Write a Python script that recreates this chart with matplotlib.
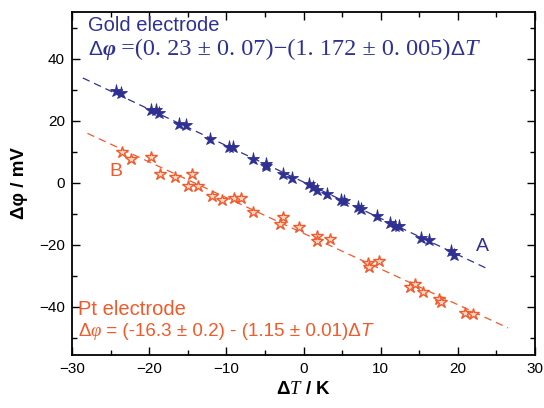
import matplotlib
matplotlib.use('Agg')
import matplotlib.pyplot as plt
import matplotlib.transforms as mtransforms
import numpy as np

plt.rcParams['font.family'] = ['Liberation Sans', 'DejaVu Sans']
plt.rcParams['mathtext.fontset'] = 'custom'
plt.rcParams['mathtext.rm'] = 'Liberation Serif'
plt.rcParams['mathtext.it'] = 'Liberation Serif:italic'
plt.rcParams['mathtext.sf'] = 'Liberation Sans'

BLUE = '#2e3192'
ORANGE = '#f15a2b'

# gold electrode (A)
gold_dT = [-24.3, -23.65, -19.76, -19.1, -18.7, -16.1, -15.2, -12.1, -9.6, -9.2,
           -6.5, -4.9, -4.9, -2.6, -1.5, 0.67, 1.27, 1.8, 3.0, 4.86,
           5.29, 7.0, 7.5, 9.5, 11.2, 11.9, 12.4, 15.2, 16.3, 19.1, 19.5]
gold_dphi = [29.7, 28.8, 23.3, 23.3, 22.5, 18.8, 18.5, 14.1, 11.4, 11.4,
             7.6, 5.9, 5.3, 2.9, 1.4, -0.4, -1.4, -2.3, -3.5, -5.5,
             -6.0, -7.8, -8.5, -10.6, -13.0, -13.9, -13.9, -17.8, -18.6, -21.9, -23.2]
gold_fit = (0.23, -1.172)
gold_fit_range = (-28.6, 24.0)

# Pt electrode (B)
pt_dT = [-23.5, -22.4, -19.7, -18.6, -16.6, -14.4, -15.0, -13.7, -11.9, -10.6,
         -9.0, -8.1, -6.6, -2.7, -3.0, -0.6, 1.8, 1.8, 3.4, 8.4,
         8.5, 9.8, 13.8, 14.4, 15.5, 17.5, 17.8, 20.9, 22.0]
pt_dphi = [9.9, 7.7, 8.2, 2.8, 2.0, 2.7, -0.9, -1.2, -4.2, -5.5,
           -4.9, -4.9, -9.3, -10.9, -13.2, -14.3, -17.1, -18.9, -18.2, -25.9,
           -27.0, -25.2, -33.5, -32.7, -35.1, -37.4, -38.5, -42.0, -42.3]
pt_fit = (-16.3, -1.15)
pt_fit_range = (-28.0, 26.5)


def draw_pieces(ax, x, y, pieces, color, size):
    """Draw consecutive text pieces on one baseline, each with its own style."""
    fig = ax.figure
    renderer = fig.canvas.get_renderer()
    trans = ax.transAxes
    for s, style in pieces:
        style = dict(style)
        fs = style.pop('size', size)
        t = ax.text(x, y, s, transform=trans, color=color, fontsize=fs,
                    va='baseline', ha='left', **style)
        ext = t.get_window_extent(renderer)
        trans = mtransforms.offset_copy(t.get_transform(), fig=fig,
                                        x=ext.width, units='dots')


fig = plt.figure(figsize=(5.44, 4.08), dpi=100)
ax = fig.add_axes([72 / 544, 53 / 408, 463 / 544, 343 / 408])

# fitted lines
for (a, b), (x0, x1), c in [(gold_fit, gold_fit_range, BLUE), (pt_fit, pt_fit_range, ORANGE)]:
    xs = np.array([x0, x1])
    ax.plot(xs, a + b * xs, ls=(0, (6, 4)), lw=0.9, color=c)

ax.plot(gold_dT, gold_dphi, ls='none', marker='*', ms=9.5, color=BLUE,
        markeredgecolor=BLUE, markeredgewidth=0.6)
ax.plot(pt_dT, pt_dphi, ls='none', marker='*', ms=9, markerfacecolor='#fcd9cb',
        markeredgecolor=ORANGE, markeredgewidth=1.0)

ax.set_xlim(-30, 30)
ax.set_ylim(-55.5, 55)
ax.set_xticks(np.arange(-30, 31, 10))
ax.set_xticks(np.arange(-25, 30, 10), minor=True)
ax.set_yticks([-40, -20, 0, 20, 40])
ax.set_yticks(np.arange(-50, 51, 20), minor=True)
ax.tick_params(which='both', direction='in', top=True, right=True,
               labelsize=11, width=1.0, pad=5)
ax.tick_params(which='major', length=6)
ax.tick_params(which='minor', length=3.5)
for sp in ax.spines.values():
    sp.set_linewidth(1.3)

ax.set_ylabel('Δφ / mV', fontsize=13.5, fontweight='bold', labelpad=8)
ax.set_xlabel('Δ$\\mathbf{\\it{T}}$ / K', fontsize=13.5, fontweight='bold')

ax.text(23.2, -20.6, 'A', color=BLUE, fontsize=14, ha='center', va='center')
ax.text(-24.3, 3.5, 'B', color=ORANGE, fontsize=14, ha='center', va='center')

ax.text(0.035, 0.945, 'Gold electrode', transform=ax.transAxes, color=BLUE,
        fontsize=14.5, va='baseline')
draw_pieces(ax, 0.035, 0.874, [
    ('Δ', {'size': 15}),
    ('φ', {'family': 'Liberation Serif', 'style': 'italic', 'fontweight': 'bold', 'size': 16}),
    (' =(0. 23 ± 0. 07)−(1. 172 ± 0. 005)', {'family': 'Liberation Serif', 'size': 17.5}),
    ('Δ', {'size': 15}),
    ('T', {'family': 'Liberation Serif', 'style': 'italic', 'size': 17.5}),
], BLUE, 15)

ax.text(0.013, 0.116, 'Pt electrode', transform=ax.transAxes, color=ORANGE,
        fontsize=14.5, va='baseline')
draw_pieces(ax, 0.013, 0.054, [
    ('Δ', {}),
    ('φ', {'family': 'Liberation Serif', 'style': 'italic'}),
    (' = (-16.3 ± 0.2) - (1.15 ± 0.01)Δ', {}),
    ('T', {'style': 'italic'}),
], ORANGE, 13.5)

fig.savefig('out.png', dpi=100)
